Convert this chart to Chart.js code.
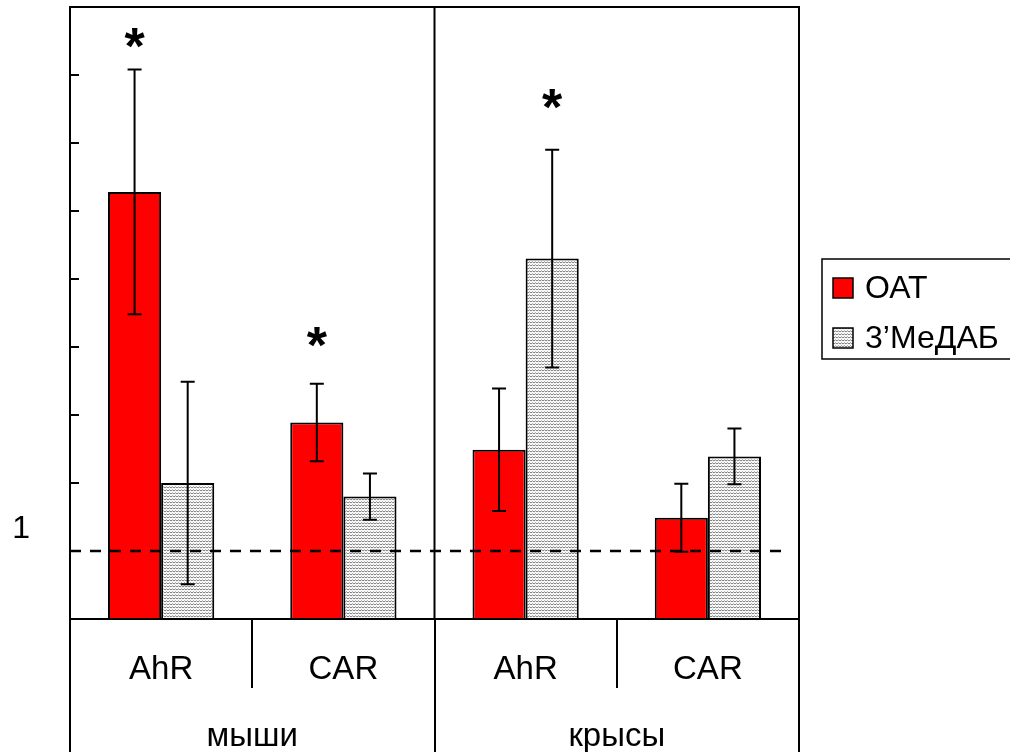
<!DOCTYPE html>
<html>
<head>
<meta charset="utf-8">
<script src="https://cdn.jsdelivr.net/npm/chart.js@4"></script>
<style>
  html, body { margin: 0; padding: 0; background: #fff; }
  #wrap { width: 1010px; height: 752px; position: relative; }
</style>
</head>
<body>
<div id="wrap"><canvas id="chart"></canvas></div>
<script>
// values (fold change, dashed line = 1)
const categories = ["AhR", "CAR", "AhR", "CAR"];
const groups = ["мыши", "крысы"];
const seriesNames = ["ОАТ", "3’МеДАБ"];
const oatValues = [6.28, 2.89, 2.49, 1.49];
const oatErrors = [1.80, 0.57, 0.90, 0.50];
const medabValues = [2.0, 1.80, 5.30, 2.39];
const medabErrors = [1.49, 0.34, 1.60, 0.41];
const yMin = 0;
const yMax = 9;
const yStep = 1;
const labeledTicks = [1];
const refValue = 1;
// significance marks: [category, series, level]
const stars = [[0, 0, 8.58], [1, 0, 4.17], [2, 1, 7.68]];

const FONT = "'Liberation Sans', Arial, sans-serif";

function makeHatch() {
  const c = document.createElement("canvas");
  c.width = 6;
  c.height = 3;
  const g = c.getContext("2d");
  g.fillStyle = "#fff";
  g.fillRect(0, 0, 6, 3);
  g.strokeStyle = "#7a7a7a";
  g.lineWidth = 1;
  g.beginPath();
  g.moveTo(0, 2);
  g.lineTo(1.5, 0.8);
  g.lineTo(3, 2);
  g.lineTo(4.5, 0.8);
  g.lineTo(6, 2);
  g.stroke();
  return g.createPattern(c, "repeat");
}

const hatch = makeHatch();
const errors = [oatErrors, medabErrors];

const extras = {
  id: "extras",
  afterDatasetsDraw(chart) {
    const { ctx, chartArea: a, scales } = chart;
    const y = scales.y;
    const x = scales.x;
    ctx.save();
    // error bars
    ctx.strokeStyle = "#000";
    ctx.lineWidth = 2;
    chart.data.datasets.forEach((ds, i) => {
      const meta = chart.getDatasetMeta(i);
      meta.data.forEach((bar, j) => {
        const v = ds.data[j];
        const e = errors[i][j];
        const top = y.getPixelForValue(v + e);
        const bot = y.getPixelForValue(v - e);
        ctx.beginPath();
        ctx.moveTo(bar.x, top);
        ctx.lineTo(bar.x, bot);
        ctx.moveTo(bar.x - 7, top);
        ctx.lineTo(bar.x + 7, top);
        ctx.moveTo(bar.x - 7, bot);
        ctx.lineTo(bar.x + 7, bot);
        ctx.stroke();
      });
    });
    // reference line
    const ry = y.getPixelForValue(refValue);
    ctx.setLineDash([11, 9]);
    ctx.lineWidth = 2.5;
    ctx.beginPath();
    ctx.moveTo(a.left, ry);
    ctx.lineTo(a.right - 12, ry);
    ctx.stroke();
    ctx.setLineDash([]);
    // frame, inner ticks, group divider
    ctx.lineWidth = 2;
    ctx.strokeRect(a.left, a.top, a.right - a.left, a.bottom - a.top);
    y.ticks.forEach((t) => {
      const py = y.getPixelForValue(t.value);
      ctx.beginPath();
      ctx.moveTo(a.left, py);
      ctx.lineTo(a.left + 9, py);
      ctx.stroke();
    });
    const mid = (x.getPixelForValue(1) + x.getPixelForValue(2)) / 2;
    ctx.beginPath();
    ctx.moveTo(mid, a.top);
    ctx.lineTo(mid, a.bottom);
    ctx.stroke();
    // stars
    ctx.fillStyle = "#000";
    ctx.font = "bold 52px " + FONT;
    ctx.textAlign = "center";
    ctx.textBaseline = "alphabetic";
    stars.forEach(([c, s, lvl]) => {
      const bar = chart.getDatasetMeta(s).data[c];
      ctx.fillText("*", bar.x, y.getPixelForValue(lvl) + 28);
    });
    ctx.restore();
  },
  afterDraw(chart) {
    const ctx = chart.ctx;
    ctx.save();
    ctx.strokeStyle = "#000";
    ctx.lineWidth = 1.5;
    ctx.strokeRect(822, 259, 260, 100);
    ctx.font = "32px " + FONT;
    ctx.textAlign = "left";
    ctx.textBaseline = "alphabetic";
    chart.data.datasets.forEach((ds, i) => {
      const top = 278 + i * 50;
      ctx.fillStyle = ds.backgroundColor;
      ctx.fillRect(833, top, 20, 20);
      ctx.strokeRect(833, top, 20, 20);
      ctx.fillStyle = "#000";
      ctx.fillText(ds.label, 865, top + 20);
    });
    ctx.restore();
  },
};

new Chart(document.getElementById("chart"), {
  type: "bar",
  data: {
    labels: categories,
    datasets: [
      {
        label: seriesNames[0],
        data: oatValues,
        backgroundColor: "#ff0000",
        borderColor: "#000",
        borderWidth: 2,
      },
      {
        label: seriesNames[1],
        data: medabValues,
        backgroundColor: hatch,
        borderColor: "#000",
        borderWidth: 2,
      },
    ],
  },
  options: {
    responsive: true,
    maintainAspectRatio: false,
    animation: false,
    layout: { padding: { top: 7, right: 211, left: 0, bottom: 0 } },
    datasets: { bar: { categoryPercentage: 0.583, barPercentage: 1.0 } },
    plugins: {
      legend: { display: false },
      tooltip: { enabled: false },
    },
    scales: {
      y: {
        min: yMin,
        max: yMax,
        grid: { display: false },
        border: { display: false },
        ticks: {
          stepSize: yStep,
          font: { family: FONT, size: 32 },
          color: "#000",
          padding: 32,
          labelOffset: -22,
          callback: (v) => (labeledTicks.includes(v) ? String(v) : ""),
        },
        afterFit: (s) => {
          s.width = 70;
          s.paddingTop = 0;
          s.paddingBottom = 0;
        },
      },
      x: {
        type: "category",
        offset: true,
        weight: 0,
        grid: { offset: true, drawOnChartArea: false, tickLength: 69, color: "#000", lineWidth: 2 },
        border: { display: false },
        ticks: {
          font: { family: FONT, size: 33 },
          color: "#000",
          padding: -38,
          maxRotation: 0,
          autoSkip: false,
        },
        afterFit: (s) => { s.height = 69; },
      },
      x2: {
        type: "category",
        labels: groups,
        position: "bottom",
        offset: true,
        weight: 1,
        grid: { offset: true, drawOnChartArea: false, tickLength: 64, color: "#000", lineWidth: 2 },
        border: { display: false },
        ticks: {
          font: { family: FONT, size: 33 },
          color: "#000",
          padding: -35,
          maxRotation: 0,
          autoSkip: false,
        },
        afterFit: (s) => { s.height = 64; },
      },
    },
  },
  plugins: [extras],
});
</script>
</body>
</html>
